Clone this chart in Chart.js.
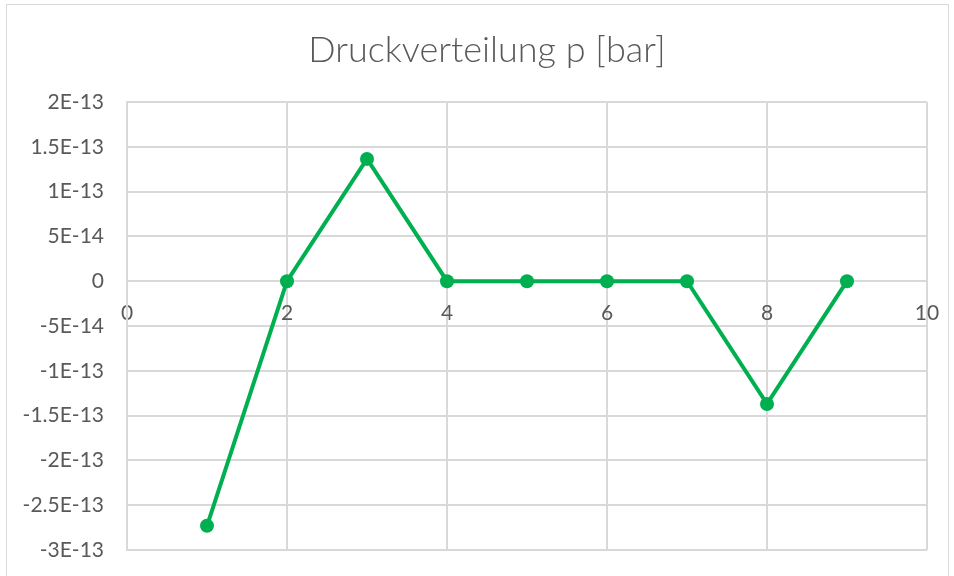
<!DOCTYPE html>
<html>
<head>
<meta charset="utf-8">
<script src="https://cdn.jsdelivr.net/npm/chart.js@4"></script>
<style>
  body { margin: 0; background: #fff; }
  #wrap { position: relative; width: 954px; height: 576px; overflow: hidden; }
  #frame { position: absolute; left: 6px; top: 4px; width: 943px; height: 600px; border: 1px solid #d9d9d9; box-sizing: border-box; }
  canvas { position: absolute; left: 0; top: 0; }
</style>
</head>
<body>
<div id="wrap">
  <div id="frame"></div>
  <canvas id="druckChart" width="954" height="576"></canvas>
</div>
<script>
// Knoten (x) und Druck p [bar]
const positions = [1, 2, 3, 4, 5, 6, 7, 8, 9];
const pressure = [-2.73e-13, 0, 1.365e-13, 0, 0, 0, 0, -1.37e-13, 0];
const xTicks = [0, 2, 4, 6, 8, 10];
const yTicks = [2e-13, 1.5e-13, 1e-13, 5e-14, 0, -5e-14, -1e-13, -1.5e-13, -2e-13, -2.5e-13, -3e-13];
const chartTitle = 'Druckverteilung p [bar]';

const textColor = '#595959';
const gridColor = '#d9d9d9';
const lineColor = '#00b050';

// Excel style: 1.5E-13, 5E-14, 0
function excelSci(v) {
    if (Math.abs(v) < 1e-20) return '0';
    const exp = Math.floor(Math.log10(Math.abs(v)) + 1e-9);
    const mant = Number((v / Math.pow(10, exp)).toFixed(2));
    return mant + 'E' + (exp < 0 ? '-' : '+') + String(Math.abs(exp)).padStart(2, '0');
}

// title sits a bit right of the canvas centre, like the Excel frame
const titlePlugin = {
    id: 'excelTitle',
    afterDraw(chart) {
        const c = chart.ctx;
        c.save();
        c.fillStyle = textColor;
        c.font = '300 36px Lato';
        c.textAlign = 'center';
        c.textBaseline = 'middle';
        c.fillText(chartTitle, 487, 50);
        c.restore();
    }
};

const ctx = document.getElementById('druckChart').getContext('2d');
new Chart(ctx, {
    type: 'line',
    data: {
        datasets: [{
            label: 'p',
            data: positions.map((x, i) => ({ x: x, y: pressure[i] })),
            borderColor: lineColor,
            backgroundColor: lineColor,
            borderWidth: 4,
            pointRadius: 7,
            pointHoverRadius: 7,
            pointBorderWidth: 0,
            tension: 0
        }]
    },
    plugins: [titlePlugin],
    options: {
        responsive: false,
        animation: false,
        layout: {
            padding: { top: 102, left: 10, right: 27, bottom: 26 }
        },
        scales: {
            x: {
                type: 'linear',
                position: { y: 0 },
                min: 0,
                max: 10,
                afterBuildTicks: (scale) => {
                    scale.ticks = xTicks.map(v => ({ value: v }));
                },
                afterFit: (scale) => {
                    scale.paddingLeft = 0;
                    scale.paddingRight = 0;
                },
                grid: { color: gridColor, lineWidth: 2, drawTicks: false },
                border: { color: gridColor, width: 2 },
                ticks: {
                    color: textColor,
                    padding: 19,
                    maxRotation: 0,
                    font: { family: 'Lato', size: 21 }
                }
            },
            y: {
                min: -3e-13,
                max: 2e-13,
                afterBuildTicks: (scale) => {
                    scale.ticks = yTicks.map(v => ({ value: v }));
                },
                afterFit: (scale) => {
                    scale.width = 117;
                    scale.paddingTop = 0;
                    scale.paddingBottom = 0;
                },
                grid: { color: gridColor, lineWidth: 2, drawTicks: false },
                border: { color: gridColor, width: 2 },
                ticks: {
                    color: textColor,
                    padding: 23,
                    font: { family: 'Lato', size: 21 },
                    callback: (value) => excelSci(value)
                }
            }
        },
        plugins: {
            legend: { display: false },
            tooltip: { enabled: false },
            title: { display: false }
        }
    }
});
</script>
</body>
</html>
